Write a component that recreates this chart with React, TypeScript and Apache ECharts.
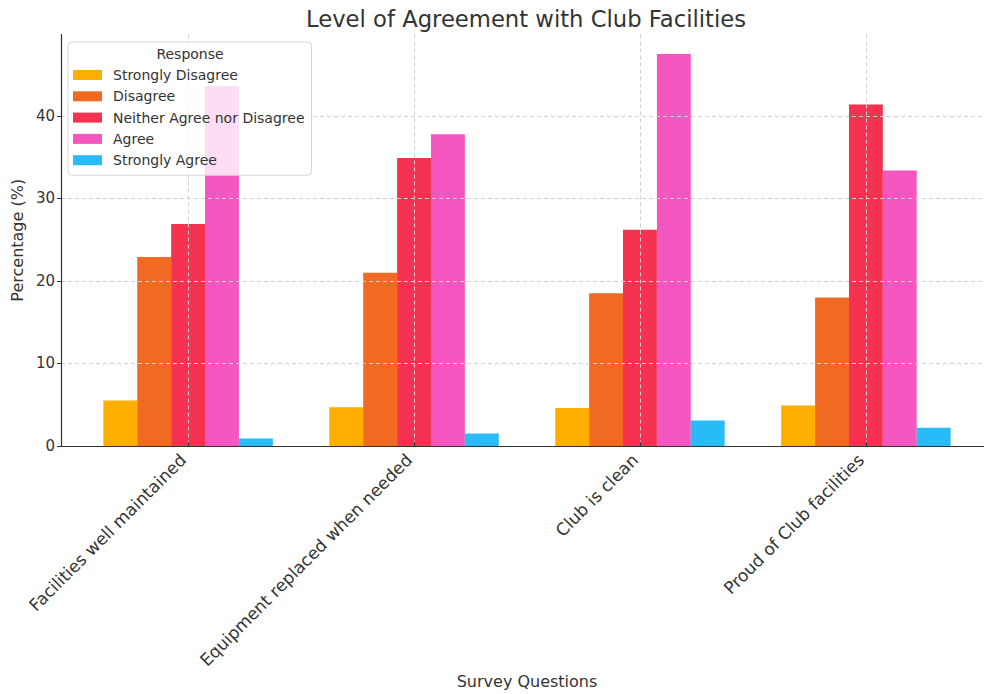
import React, { useEffect, useRef } from 'react';
import * as echarts from 'echarts';

const categories = [
  'Facilities well maintained',
  'Equipment replaced when needed',
  'Club is clean',
  'Proud of Club facilities',
];
const responses = [
  'Strongly Disagree',
  'Disagree',
  'Neither Agree nor Disagree',
  'Agree',
  'Strongly Agree',
];
const stronglyDisagree = [5.5, 4.7, 4.6, 4.9];
const disagree = [22.9, 21.0, 18.5, 18.0];
const neither = [26.9, 34.9, 26.2, 41.4];
const agree = [43.6, 37.8, 47.5, 33.4];
const stronglyAgree = [0.9, 1.5, 3.1, 2.2];
const yTicks = [0, 10, 20, 30, 40];
const colors = ['#FFAE00', '#F06A22', '#F5324F', '#F557C0', '#29BBF7'];

const FONT = 'DejaVu Sans';

export default function App() {
  const ref = useRef<HTMLDivElement>(null);
  useEffect(() => {
    if (!ref.current) return;
    const chart = echarts.init(ref.current, null, { renderer: 'svg' });
    const values = [stronglyDisagree, disagree, neither, agree, stronglyAgree];
    const catIdx = categories.map((_, i) => i);
    chart.setOption({
      animation: false,
      backgroundColor: '#fff',
      textStyle: { fontFamily: FONT },
      graphic: [
        {
          type: 'text',
          x: 526,
          y: 19,
          z: 100,
          style: {
            text: 'Level of Agreement with Club Facilities',
            align: 'center',
            verticalAlign: 'middle',
            fontSize: 22.7,
            fontFamily: FONT,
            fill: '#333',
          },
        },
        {
          type: 'text',
          x: 190,
          y: 54,
          z: 100,
          style: {
            text: 'Response',
            align: 'center',
            verticalAlign: 'middle',
            fontSize: 14,
            fontFamily: FONT,
            fill: '#333',
          },
        },
      ],
      grid: {
        left: 61,
        width: 932,
        top: 34.5,
        bottom: 248,
        containLabel: false,
        outerBoundsMode: 'none',
      },
      legend: {
        data: responses,
        orient: 'vertical',
        left: 68,
        top: 42,
        icon: 'rect',
        itemWidth: 29,
        itemHeight: 10,
        itemGap: 5.3,
        padding: [25, 7, 7, 5],
        backgroundColor: 'rgba(255,255,255,0.8)',
        borderColor: '#d6d6d6',
        borderWidth: 1,
        borderRadius: 4,
        textStyle: { fontSize: 14, color: '#333', fontFamily: FONT, lineHeight: 16, padding: [0, 0, 0, 6] },
      },
      xAxis: {
        type: 'value',
        min: -0.5625,
        max: 3.5625,
        z: 3,
        name: 'Survey Questions',
        nameLocation: 'middle',
        nameGap: 227,
        nameMoveOverlap: false,
        nameTextStyle: { fontSize: 16, color: '#333', fontFamily: FONT },
        axisLine: { show: true, onZero: false, lineStyle: { color: '#333', width: 1.2 } },
        axisTick: { show: true, inside: true, length: 4, customValues: catIdx, lineStyle: { color: '#333' } },
        axisLabel: {
          customValues: catIdx,
          rotate: 45,
          margin: 6,
          padding: [0, 7, 0, 0],
          fontSize: 17,
          color: '#333',
          fontFamily: FONT,
          formatter: (v: number) => categories[Math.round(v)] ?? '',
        },
        splitLine: { show: true, lineStyle: { color: '#cfcfcf', type: [4, 3], width: 1 } },
      },
      yAxis: {
        type: 'value',
        min: 0,
        max: 49.875,
        z: 3,
        name: 'Percentage (%)',
        nameLocation: 'middle',
        nameGap: 32,
        nameTextStyle: { fontSize: 16, color: '#333', fontFamily: FONT },
        axisLine: { show: true, onZero: false, lineStyle: { color: '#333', width: 1.2 } },
        axisTick: { show: true, length: 4, customValues: yTicks, lineStyle: { color: '#333' } },
        axisLabel: { customValues: yTicks, margin: 6, fontSize: 15, color: '#333', fontFamily: FONT },
        splitLine: { show: true, lineStyle: { color: '#cfcfcf', type: [4, 3], width: 1 } },
      },
      series: responses.map((name, i) => ({
        name,
        type: 'bar',
        barGap: '0%',
        barCategoryGap: '25%',
        itemStyle: { color: colors[i] },
        data: values[i].map((v, j) => [j, v]),
      })),
    });
    return () => chart.dispose();
  }, []);
  return <div ref={ref} style={{ width: 984, height: 694, position: 'absolute', left: 0, top: 0 }} />;
}
